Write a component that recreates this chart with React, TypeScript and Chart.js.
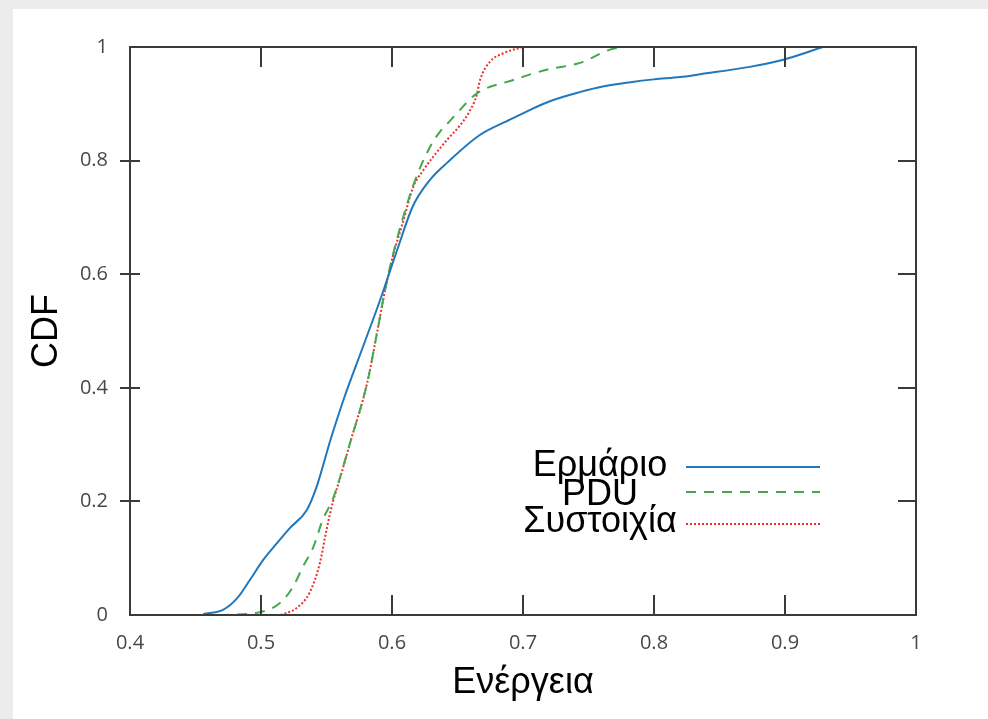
import React, { useEffect, useRef } from "react";
import { Chart, registerables } from "chart.js";

Chart.register(...registerables);

// ---- data ----
const seriesNames = ["Ερμάριο", "PDU", "Συστοιχία"];

const ermarioX = [0.456, 0.471, 0.482, 0.4916, 0.5017, 0.512, 0.522, 0.535, 0.5425, 0.553, 0.563, 0.577, 0.591, 0.604, 0.616, 0.629, 0.642, 0.667, 0.69, 0.705, 0.721, 0.744, 0.76, 0.782, 0.8, 0.82, 0.835, 0.873, 0.898, 0.929];
const ermarioY = [0.002, 0.009, 0.03, 0.062, 0.097, 0.126, 0.153, 0.185, 0.226, 0.308, 0.379, 0.467, 0.555, 0.643, 0.72, 0.766, 0.796, 0.845, 0.872, 0.889, 0.905, 0.921, 0.93, 0.938, 0.943, 0.947, 0.952, 0.965, 0.977, 1.0];

const pduX = [0.468, 0.499, 0.5145, 0.5245, 0.532, 0.54, 0.547, 0.555, 0.56, 0.568, 0.581, 0.5885, 0.5947, 0.601, 0.616, 0.629, 0.637, 0.6443, 0.649, 0.6646, 0.6926, 0.718, 0.7435, 0.766, 0.776];
const pduY = [0.0, 0.005, 0.021, 0.05, 0.085, 0.12, 0.167, 0.205, 0.24, 0.303, 0.408, 0.496, 0.572, 0.637, 0.755, 0.824, 0.852, 0.87, 0.882, 0.918, 0.942, 0.96, 0.972, 0.995, 1.0];

const systoichiaX = [0.515, 0.527, 0.537, 0.545, 0.55, 0.555, 0.56, 0.568, 0.581, 0.5885, 0.5947, 0.601, 0.6074, 0.6163, 0.6239, 0.6315, 0.6418, 0.6519, 0.6595, 0.6646, 0.6672, 0.6748, 0.685, 0.7];
const systoichiaY = [0.0, 0.012, 0.039, 0.092, 0.15, 0.2, 0.238, 0.303, 0.408, 0.496, 0.572, 0.635, 0.684, 0.754, 0.783, 0.807, 0.836, 0.862, 0.888, 0.915, 0.942, 0.974, 0.989, 1.0];

const xTickLabels = ["0.4", "0.5", "0.6", "0.7", "0.8", "0.9", "1"];
const yTickLabels = ["0", "0.2", "0.4", "0.6", "0.8", "1"];

const xTitle = "Ενέργεια";
const yTitle = "CDF";

const toPoints = (xs: number[], ys: number[]) => xs.map((x, i) => ({ x, y: ys[i] }));

const FRAME = "#3a3a3a";

const backgroundPlugin = {
  id: "bgPanel",
  beforeDraw(chart: any) {
    const { ctx, width, height } = chart;
    ctx.save();
    ctx.fillStyle = "#ececec";
    ctx.fillRect(0, 0, width, height);
    ctx.fillStyle = "#ffffff";
    ctx.fillRect(13, 9, width - 13, height - 9);
    ctx.restore();
  },
};

const framePlugin = {
  id: "frameTicks",
  afterDatasetsDraw(chart: any) {
    const { ctx, chartArea } = chart;
    const { left, right, top, bottom } = chartArea;
    const xs = chart.scales.x;
    const ys = chart.scales.y;
    ctx.save();
    ctx.strokeStyle = FRAME;
    ctx.lineWidth = 2;
    ctx.beginPath();
    xs.ticks.forEach((t: any) => {
      const px = Math.round(xs.getPixelForValue(t.value));
      if (px <= left + 1 || px >= right - 1) return;
      ctx.moveTo(px, bottom);
      ctx.lineTo(px, bottom - 20);
      ctx.moveTo(px, top);
      ctx.lineTo(px, top + 20);
    });
    ys.ticks.forEach((t: any) => {
      const py = Math.round(ys.getPixelForValue(t.value));
      if (py <= top + 1 || py >= bottom - 1) return;
      ctx.moveTo(left - 10, py);
      ctx.lineTo(left + 10, py);
      ctx.moveTo(right, py);
      ctx.lineTo(right - 18, py);
    });
    ctx.stroke();
    ctx.strokeRect(left, top, right - left, bottom - top);
    ctx.restore();
  },
};

const legendPlugin = {
  id: "innerLegend",
  afterDraw(chart: any) {
    const { ctx } = chart;
    const textCenter = 600;
    const lineStart = 686;
    const lineEnd = 820;
    const baselines = [476, 505, 532];
    const lineYs = [467, 492, 524];
    ctx.save();
    ctx.font = "36px 'Liberation Sans', Arial, sans-serif";
    ctx.textAlign = "center";
    ctx.textBaseline = "alphabetic";
    ctx.fillStyle = "#000";
    chart.data.datasets.forEach((ds: any, i: number) => {
      ctx.fillText(ds.label, textCenter, baselines[i]);
      ctx.beginPath();
      ctx.strokeStyle = ds.borderColor;
      ctx.lineWidth = ds.borderWidth;
      ctx.setLineDash(ds.borderDash || []);
      ctx.moveTo(lineStart, lineYs[i]);
      ctx.lineTo(lineEnd, lineYs[i]);
      ctx.stroke();
    });
    ctx.restore();
  },
};

export default function App() {
  const ref = useRef<HTMLCanvasElement | null>(null);

  useEffect(() => {
    if (!ref.current) return;
    const chart = new Chart(ref.current, {
      type: "line",
      data: {
        datasets: [
          {
            label: seriesNames[0],
            data: toPoints(ermarioX, ermarioY),
            borderColor: "#2277bb",
            borderWidth: 2,
            pointRadius: 0,
            cubicInterpolationMode: "monotone",
            fill: false,
          },
          {
            label: seriesNames[1],
            data: toPoints(pduX, pduY),
            borderColor: "#45a84e",
            borderWidth: 2,
            borderDash: [10, 8],
            pointRadius: 0,
            cubicInterpolationMode: "monotone",
            fill: false,
          },
          {
            label: seriesNames[2],
            data: toPoints(systoichiaX, systoichiaY),
            borderColor: "#e8322c",
            borderWidth: 2,
            borderDash: [2, 2],
            pointRadius: 0,
            cubicInterpolationMode: "monotone",
            fill: false,
          },
        ],
      },
      options: {
        animation: false,
        responsive: false,
        layout: { padding: { left: 13, top: 47, right: 72, bottom: 0 } },
        plugins: { legend: { display: false }, tooltip: { enabled: false } },
        scales: {
          x: {
            type: "linear",
            min: 0.4,
            max: 1,
            grid: { display: false, drawTicks: false },
            border: { display: false },
            ticks: {
              stepSize: 0.1,
              autoSkip: false,
              maxRotation: 0,
              padding: 16,
              color: "#484848",
              font: { family: "'Open Sans', sans-serif", size: 20 },
              callback: (_v: any, i: number) => xTickLabels[i],
            },
            title: {
              display: true,
              text: xTitle,
              color: "#000",
              font: { family: "'Liberation Sans', Arial, sans-serif", size: 36 },
              padding: { top: 0, bottom: 14 },
            },
            afterFit: (s: any) => {
              s.height = 104;
            },
          },
          y: {
            type: "linear",
            min: 0,
            max: 1,
            grid: { display: false, drawTicks: false },
            border: { display: false },
            ticks: {
              stepSize: 0.2,
              autoSkip: false,
              padding: 22,
              color: "#484848",
              font: { family: "'Open Sans', sans-serif", size: 20 },
              callback: (_v: any, i: number) => yTickLabels[i],
            },
            title: {
              display: true,
              text: yTitle,
              color: "#000",
              font: { family: "'Liberation Sans', Arial, sans-serif", size: 36 },
              padding: { top: 12, bottom: 0 },
            },
            afterFit: (s: any) => {
              s.width = 117;
            },
          },
        },
      },
      plugins: [backgroundPlugin, framePlugin, legendPlugin],
    } as any);
    return () => chart.destroy();
  }, []);

  return (
    <div style={{ position: "fixed", left: 0, top: 0, width: 988, height: 719, background: "#ececec" }}>
      <canvas ref={ref} width={988} height={719} style={{ display: "block", width: 988, height: 719 }} />
    </div>
  );
}
